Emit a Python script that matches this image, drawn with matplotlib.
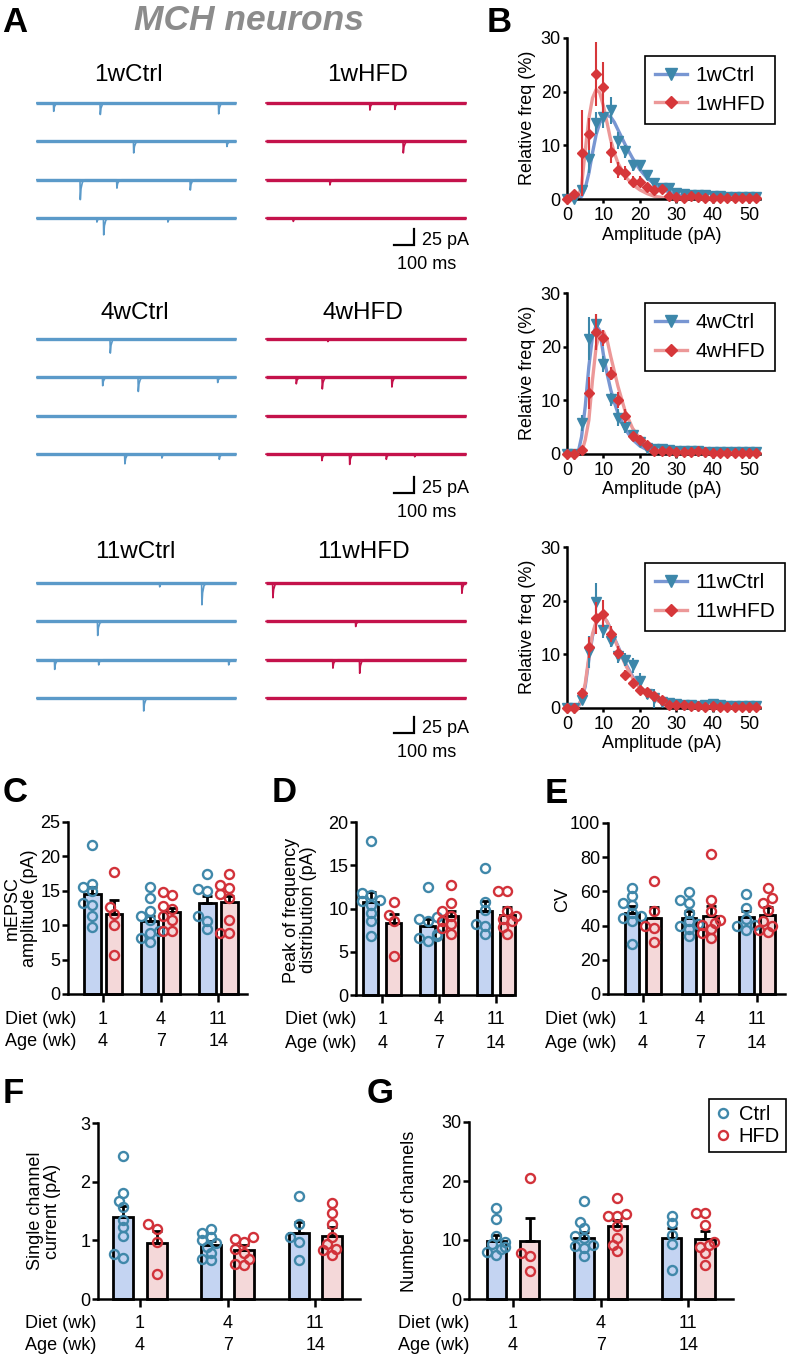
import numpy as np
import matplotlib
matplotlib.use("Agg")
import matplotlib.pyplot as plt
from matplotlib.lines import Line2D

plt.rcParams['font.family'] = ['Liberation Sans', 'DejaVu Sans']

W, H = 787, 1355

# ---------------- panel A: mEPSC events per sweep, (time ms, amplitude pA)
ev_1w_ctrl = [[(87, 13), (320, 18), (912, 17)],
              [(487, 18), (953, 8)],
              [(220, 31), (403, 13), (770, 16)],
              [(303, 6), (337, 26), (658, 6)]]
ev_1w_hfd = [[(518, 11), (643, 10)],
             [(685, 18)],
             [(318, 8)],
             [(135, 5)]]
ev_4w_ctrl = [[(370, 22)],
              [(332, 13), (510, 22), (907, 8)],
              [],
              [(443, 15), (628, 6), (915, 8)]]
ev_4w_hfd = [[(308, 4)],
             [(150, 10), (280, 18), (628, 15)],
             [],
             [(278, 10), (417, 16), (600, 8), (742, 4)]]
ev_11w_ctrl = [[(617, 6), (828, 34)],
               [(307, 22)],
               [(92, 15), (312, 8), (962, 8)],
               [(537, 20)]]
ev_11w_hfd = [[(33, 23), (978, 16)],
              [(447, 8)],
              [(333, 13), (467, 21)],
              []]
trace_groups = ["1w", "4w", "11w"]

# ---------------- panel B: amplitude distributions
amp_bins = [0, 2, 4, 6, 8, 10, 12, 14, 16, 18, 20, 22, 24, 26, 28, 30, 32, 34, 36, 38, 40, 42, 44, 46, 48, 50, 52]
fit_x = [0, 2, 3, 4, 5, 6, 7, 8, 9, 10, 11, 12, 13, 14, 16, 18, 20, 22, 24, 26, 28, 30, 34, 40, 46, 52]

b1_ctrl = [0, 0, 1.7, 7.4, 14.2, 15.3, 16.5, 10.9, 8.9, 6.3, 6.3, 4.4, 3.0, 2.0, 2.1, 1.1, 1.0, 0.8, 0.8, 0.7, 0.6, 0.5, 0.4, 0.4, 0.3, 0.3, 0.3]
b1_ctrl_sem = [0, 0, 0.8, 2.5, 2.0, 2.1, 2.5, 1.5, 1.2, 1.0, 1.0, 0.8, 0.6, 0.4, 0.4, 0.3, 0.3, 0.3, 0.3, 0.3, 0.2, 0.2, 0.2, 0.2, 0.2, 0.2, 0.2]
b1_hfd = [0, 1.0, 8.5, 12.1, 23.3, 20.8, 8.7, 5.4, 4.8, 3.2, 3.2, 2.2, 1.6, 1.9, 0.5, 0.4, 0.2, 0.5, 0.3, 0.2, 0.2, 0.2, 0.2, 0.1, 0.1, 0.2, 0.1]
b1_hfd_sem = [0, 0.5, 8.0, 3.0, 6.0, 4.8, 2.0, 1.5, 1.3, 1.0, 1.0, 0.8, 0.6, 0.8, 0.3, 0.3, 0.2, 0.3, 0.2, 0.2, 0.2, 0.2, 0.2, 0.1, 0.1, 0.1, 0.1]
b1_ctrl_fit = [0, 0, 0.05, 0.5, 2.0, 4.8, 8.6, 12.0, 14.2, 15.3, 15.6, 15.3, 14.3, 12.9, 10.1, 7.6, 5.5, 3.9, 2.8, 1.9, 1.3, 0.8, 0.35, 0.1, 0.03, 0]
b1_hfd_fit = [0, 0, 0.2, 2.5, 9.0, 15.0, 18.8, 20.4, 19.8, 17.3, 14.2, 11.0, 8.6, 6.7, 4.2, 2.7, 1.7, 1.0, 0.5, 0.3, 0.15, 0.05, 0, 0, 0, 0]

b2_ctrl = [0, 0, 5.8, 21.5, 24.3, 16.8, 10.2, 6.8, 5.0, 3.5, 2.2, 1.2, 1.0, 0.9, 0.8, 0.6, 0.6, 0.5, 0.5, 0.4, 0.4, 0.3, 0.3, 0.3, 0.3, 0.3, 0.3]
b2_ctrl_sem = [0, 0, 1.5, 4.0, 1.8, 1.5, 1.2, 1.5, 1.0, 0.8, 0.5, 0.4, 0.3, 0.3, 0.3, 0.3, 0.3, 0.3, 0.3, 0.3, 0.3, 0.2, 0.2, 0.2, 0.2, 0.2, 0.2]
b2_hfd = [0, 0, 0.7, 11.4, 22.7, 21.6, 15.0, 10.1, 7.0, 3.3, 2.7, 1.6, 0.5, 0.5, 0.5, 0.4, 0.3, 0.4, 0.5, 0.3, 0.2, 0.2, 0.2, 0.2, 0.2, 0.2, 0.2]
b2_hfd_sem = [0, 0, 0.4, 3.0, 3.3, 1.5, 1.3, 1.5, 1.3, 0.8, 0.8, 0.5, 0.2, 0.2, 0.2, 0.2, 0.2, 0.2, 0.2, 0.2, 0.2, 0.2, 0.2, 0.2, 0.2, 0.2, 0.2]
b2_ctrl_fit = [0, 0, 0.1, 3.2, 8.8, 16.3, 21.9, 24.0, 23.0, 18.5, 15.0, 12.0, 9.6, 7.6, 4.6, 2.7, 1.5, 0.8, 0.4, 0.2, 0.1, 0, 0, 0, 0, 0]
b2_hfd_fit = [0, 0, 0, 0.3, 2.6, 6.3, 13.8, 20.0, 22.5, 22.8, 21.3, 18.2, 15.4, 12.6, 7.9, 4.8, 2.9, 1.8, 1.0, 0.5, 0.25, 0.1, 0, 0, 0, 0]

b3_ctrl = [0, 0, 1.5, 10.5, 19.8, 14.6, 12.5, 9.6, 9.0, 8.0, 5.0, 2.6, 1.8, 1.2, 0.9, 0.7, 0.6, 0.5, 0.4, 0.5, 0.8, 0.5, 0.3, 0.3, 0.3, 0.3, 0.3]
b3_ctrl_sem = [0, 0, 0.8, 3.0, 3.5, 1.5, 1.2, 1.3, 1.2, 1.4, 1.5, 1.0, 1.8, 0.6, 0.3, 0.3, 0.3, 0.3, 0.3, 0.3, 0.3, 0.3, 0.3, 0.3, 0.3, 0.3, 0.3]
b3_hfd = [0, 0, 2.8, 11.3, 16.8, 17.6, 13.8, 10.3, 6.2, 4.7, 3.3, 3.0, 2.3, 1.5, 0.6, 0.6, 0.6, 0.4, 0.3, 0.2, 0.3, 0.2, 0.2, 0.2, 0.2, 0.2, 0.2]
b3_hfd_sem = [0, 0, 1.0, 2.0, 3.0, 2.5, 1.5, 1.2, 0.8, 0.7, 0.6, 0.5, 0.5, 0.4, 0.2, 0.2, 0.2, 0.2, 0.2, 0.2, 0.2, 0.2, 0.2, 0.2, 0.2, 0.2, 0.2]
b3_ctrl_fit = [0, 0, 0.1, 1.6, 4.0, 9.0, 13.4, 15.8, 17.0, 17.0, 16.1, 14.7, 13.0, 11.5, 8.4, 5.9, 4.0, 2.7, 1.7, 1.1, 0.6, 0.4, 0.15, 0.05, 0, 0]
b3_hfd_fit = [0, 0, 0.1, 1.8, 4.5, 9.5, 13.8, 16.1, 17.2, 17.1, 16.1, 14.6, 12.9, 11.3, 8.1, 5.6, 3.8, 2.5, 1.6, 1.0, 0.6, 0.35, 0.1, 0.03, 0, 0]

# ---------------- panels C-G: per-cell values, means and SEM
diet_wk = ["1", "4", "11"]
age_wk = ["4", "7", "14"]

c_ctrl_mean = [14.5, 10.6, 13.2]
c_ctrl_sem = [1.0, 0.8, 1.1]
c_hfd_mean = [11.7, 11.9, 13.3]
c_hfd_sem = [1.9, 0.6, 1.0]
c_ctrl_pts = [[21.6, 16.0, 15.5, 14.9, 13.2, 13.0, 11.4, 9.7],
              [15.6, 13.9, 12.1, 11.4, 10.8, 9.1, 8.9, 8.1, 7.5],
              [17.4, 15.2, 14.9, 11.3, 10.6, 9.4]]
c_hfd_pts = [[17.8, 12.7, 11.7, 10.1, 5.7],
             [14.8, 14.4, 12.8, 12.3, 11.3, 10.8, 9.2, 9.1],
             [17.4, 15.9, 15.4, 14.5, 14.0, 10.8, 8.9, 8.9]]

d_ctrl_mean = [10.8, 8.0, 9.7]
d_ctrl_sem = [1.1, 0.8, 1.2]
d_hfd_mean = [8.3, 9.1, 9.3]
d_hfd_sem = [1.1, 0.6, 0.9]
d_ctrl_pts = [[17.8, 11.8, 11.6, 11.0, 10.9, 10.4, 9.5, 8.6, 6.8],
              [12.5, 9.0, 8.8, 8.5, 7.0, 6.8, 6.6, 6.3],
              [14.7, 10.8, 9.8, 8.2, 8.0, 7.1]]
d_hfd_pts = [[10.7, 9.3, 8.6, 4.5],
             [12.7, 10.6, 9.7, 9.1, 8.6, 8.2, 7.7, 7.1],
             [12.0, 12.0, 9.7, 9.1, 8.8, 8.5, 7.9, 7.1]]

e_ctrl_mean = [47.4, 44.4, 44.8]
e_ctrl_sem = [3.9, 3.9, 3.9]
e_hfd_mean = [44.4, 45.8, 46.4]
e_hfd_sem = [6.3, 5.9, 4.5]
e_ctrl_pts = [[62.0, 57.3, 53.2, 52.2, 47.4, 45.4, 44.4, 42.5, 29.4],
              [59.5, 55.2, 53.2, 47.4, 42.5, 41.1, 39.6, 38.0, 33.7],
              [58.7, 50.3, 43.9, 40.5, 39.6, 37.6]]
e_hfd_pts = [[65.9, 48.3, 39.6, 38.6, 30.4],
             [81.9, 55.2, 48.7, 43.5, 41.5, 40.5, 38.0, 35.7, 32.7],
             [62.0, 56.1, 53.2, 49.3, 42.5, 40.0, 37.6, 36.1]]

f_ctrl_mean = [1.39, 0.92, 1.13]
f_ctrl_sem = [0.20, 0.07, 0.19]
f_hfd_mean = [0.96, 0.83, 1.08]
f_hfd_sem = [0.20, 0.09, 0.14]
f_ctrl_pts = [[2.43, 1.81, 1.67, 1.56, 1.35, 1.23, 1.08, 0.76, 0.70],
              [1.20, 1.13, 1.06, 1.00, 0.95, 0.89, 0.79, 0.69, 0.66],
              [1.76, 1.27, 1.05, 0.98, 0.67]]
f_hfd_pts = [[1.28, 1.20, 0.98, 0.42],
             [1.06, 1.02, 0.98, 0.86, 0.79, 0.69, 0.60, 0.58],
             [1.63, 1.47, 1.28, 1.06, 0.94, 0.85, 0.83, 0.75]]

g_ctrl_mean = [9.9, 10.4, 10.4]
g_ctrl_sem = [0.9, 0.9, 1.7]
g_hfd_mean = [9.9, 12.4, 10.2]
g_hfd_sem = [3.8, 1.0, 1.3]
g_ctrl_pts = [[15.4, 13.6, 10.7, 9.6, 9.4, 8.8, 8.5, 8.0, 7.5],
              [16.6, 13.0, 12.0, 10.6, 10.3, 9.1, 9.0, 8.6, 7.3],
              [14.1, 12.8, 10.9, 9.4, 5.0]]
g_hfd_pts = [[20.5, 7.8, 7.3, 4.7],
             [17.2, 14.4, 14.1, 14.0, 12.3, 10.4, 9.1, 8.1],
             [14.5, 14.5, 12.5, 9.7, 9.2, 8.8, 7.8, 5.7]]

# colours
CTRL_TRACE, HFD_TRACE = "#5b9ac9", "#c4124b"
CTRL_MK, HFD_MK = "#3d87aa", "#d6373a"
CTRL_FIT, HFD_FIT = "#7896d2", "#ec9898"
CTRL_BAR, HFD_BAR = "#c4d4f2", "#f4d8d9"
CTRL_DOT, HFD_DOT = "#4088aa", "#d2323a"

fig = plt.figure(figsize=(W / 100, H / 100), dpi=100)


def px_axes(x0, y0, x1, y1):
    return fig.add_axes([x0 / W, 1 - y1 / H, (x1 - x0) / W, (y1 - y0) / H])


def ftext(x, y, s, **kw):
    return fig.text(x / W, 1 - y / H, s, **kw)


# ---------------- A: traces
PX_MS, PX_PA, ROW_PA = 0.2, 0.64, 60
HFD_SHIFT = 1150
trace_rows = [103, 339, 583]
bar_bottom = [245, 493, 733]
label_base = [81, 319, 558]
label_x = [(128, 368), (135, 363), (135, 363)]
events = {"1w": (ev_1w_ctrl, ev_1w_hfd), "4w": (ev_4w_ctrl, ev_4w_hfd), "11w": (ev_11w_ctrl, ev_11w_hfd)}


def sweep(evs):
    t, y = [0], [0]
    for t0, a in sorted(evs):
        t += [t0, t0 + 1.5, t0 + 5, t0 + 12, t0 + 25]
        y += [0, -a, -0.45 * a, -0.12 * a, 0]
    t.append(1000)
    y.append(0)
    return np.array(t), np.array(y)


for gi, grp in enumerate(trace_groups):
    r1 = trace_rows[gi]
    ax = px_axes(36, r1 - 40, 480, r1 + 170)
    ax.set_xlim(0, (480 - 36) / PX_MS)
    ax.set_ylim(-170 / PX_PA, 40 / PX_PA)
    ax.axis("off")
    ctrl_ev, hfd_ev = events[grp]
    for k in range(4):
        for evs, shift, col in ((ctrl_ev[k], 0, CTRL_TRACE), (hfd_ev[k], HFD_SHIFT, HFD_TRACE)):
            t, y = sweep(evs)
            ax.plot([shift, shift + 1000], [-k * ROW_PA] * 2, color=col, lw=2.4, solid_capstyle="butt")
            ax.plot(t + shift, y - k * ROW_PA, color=col, lw=1.2)
    yb = (r1 - bar_bottom[gi]) / PX_PA
    xr = (414 - 36) / PX_MS
    ax.plot([xr - 100, xr, xr], [yb, yb, yb + 25], color="black", lw=1.6, solid_joinstyle="miter")
    ax.text(xr + 40, yb, "25 pA", fontsize=13, ha="left", va="baseline")
    ax.text((427 - 36) / PX_MS, yb - 24 / PX_PA, "100 ms", fontsize=13, ha="center", va="baseline")
    ftext(label_x[gi][0], label_base[gi], grp + "Ctrl", fontsize=17.5, ha="center", va="baseline")
    ftext(label_x[gi][1], label_base[gi], grp + "HFD", fontsize=17.5, ha="center", va="baseline")

ftext(249, 30, "MCH neurons", fontsize=25.5, fontweight="bold", fontstyle="italic",
      color="#8c8c8c", ha="center", va="baseline")

# ---------------- B: distributions
def style_axes(ax, lw=1.8):
    for s in ("top", "right"):
        ax.spines[s].set_visible(False)
    for s in ("left", "bottom"):
        ax.spines[s].set_linewidth(lw)


def dist_panel(top, cm, cs, cf, hm, hs, hf, names, leg_top):
    ax = px_axes(567, top, 760, top + 161)
    ax.set_xlim(0, 53)
    ax.set_ylim(0, 30)
    ax.plot(fit_x, cf, color=CTRL_FIT, lw=2.4, zorder=2)
    ax.plot(fit_x, hf, color=HFD_FIT, lw=2.4, zorder=2)
    ax.vlines(amp_bins, np.array(cm) - np.array(cs), np.array(cm) + np.array(cs), color=CTRL_MK, lw=1.5, zorder=3)
    ax.plot(amp_bins, cm, "v", color=CTRL_MK, ms=6.5, zorder=4, clip_on=False)
    ax.vlines(amp_bins, np.array(hm) - np.array(hs), np.array(hm) + np.array(hs), color=HFD_MK, lw=1.5, zorder=5)
    ax.plot(amp_bins, hm, "D", color=HFD_MK, ms=5.5, zorder=6, clip_on=False)
    style_axes(ax)
    ax.set_xticks([0, 10, 20, 30, 40, 50])
    ax.set_yticks([0, 10, 20, 30])
    ax.tick_params(width=1.8, length=3, labelsize=13)
    ax.tick_params(axis="y", pad=1.5)
    ax.tick_params(axis="x", pad=3)
    ftext(527, top + 80, "Relative freq (%)", fontsize=13, rotation=90, ha="center", va="center")
    ftext(662, top + 197, "Amplitude (pA)", fontsize=13, ha="center", va="center")
    handles = [Line2D([], [], color=CTRL_FIT, lw=2.4, marker="v", mfc=CTRL_MK, mec=CTRL_MK, ms=8),
               Line2D([], [], color=HFD_FIT, lw=2.4, marker="D", mfc=HFD_MK, mec=HFD_MK, ms=6.5)]
    leg = ax.legend(handles, names, loc="upper left", bbox_to_anchor=(645 / W, 1 - leg_top / H),
                    bbox_transform=fig.transFigure, fancybox=False, edgecolor="black", framealpha=1,
                    fontsize=15, handlelength=1.5, borderpad=0.5, labelspacing=0.45,
                    handletextpad=0.4, borderaxespad=0)
    leg.get_frame().set_linewidth(1.2)


dist_panel(38, b1_ctrl, b1_ctrl_sem, b1_ctrl_fit, b1_hfd, b1_hfd_sem, b1_hfd_fit, ["1wCtrl", "1wHFD"], 56)
dist_panel(293, b2_ctrl, b2_ctrl_sem, b2_ctrl_fit, b2_hfd, b2_hfd_sem, b2_hfd_fit, ["4wCtrl", "4wHFD"], 303)
dist_panel(547, b3_ctrl, b3_ctrl_sem, b3_ctrl_fit, b3_hfd, b3_hfd_sem, b3_hfd_fit, ["11wCtrl", "11wHFD"], 563)

# ---------------- C-G: bar + scatter panels
def swarm(vals, ppy, ppx, step=4.5, min_d=7.0):
    placed, offs = [], [0.0] * len(vals)
    for i in sorted(range(len(vals)), key=lambda j: vals[j]):
        y = vals[i] * ppy
        x = 0.0
        for k in (0, -1, 1, -2, 2):
            x = k * step
            if all((x - px) ** 2 + (y - py) ** 2 >= min_d ** 2 for px, py in placed):
                break
        placed.append((x, y))
        offs[i] = x / ppx
    return offs


def bar_panel(rect, xlim, ylim, yticks, bw, off, cm, cs, cp, hm, hs, hp,
              ylabel, ylab_xy, rows_xy):
    ax = px_axes(*rect)
    ax.set_xlim(*xlim)
    ax.set_ylim(0, ylim)
    ppx = (rect[2] - rect[0]) / (xlim[1] - xlim[0])
    ppy = (rect[3] - rect[1]) / ylim
    for g in range(3):
        for m, s, p, sgn, fc, mc in ((cm, cs, cp, -1, CTRL_BAR, CTRL_DOT),
                                     (hm, hs, hp, 1, HFD_BAR, HFD_DOT)):
            xc = g + sgn * off
            ax.bar(xc, m[g], width=bw, color=fc, edgecolor="black", linewidth=2, zorder=2,
                   clip_on=False)
            ax.errorbar(xc, m[g], yerr=[[0], [s[g]]], color="black", lw=2, capsize=3.5,
                        capthick=2, zorder=3)
            dx = swarm(p[g], ppy, ppx)
            ax.plot(xc + np.array(dx), p[g], "o", mfc="none", mec=mc, mew=1.7, ms=6.5,
                    zorder=4, clip_on=False)
    style_axes(ax)
    ax.set_yticks(yticks)
    ax.set_xticks([0, 1, 2])
    ax.set_xticklabels([])
    ax.tick_params(width=1.8, labelsize=13)
    ax.tick_params(axis="y", length=4, pad=1.5)
    ax.tick_params(axis="x", length=6)
    ftext(ylab_xy[0], ylab_xy[1], ylabel, fontsize=13, rotation=90, ha="center", va="center",
          linespacing=1.05)
    lx, r1, r2 = rows_xy
    ftext(lx, r1, "Diet (wk)", fontsize=13, ha="left", va="center")
    ftext(lx, r2, "Age (wk)", fontsize=13, ha="left", va="center")
    for g in range(3):
        xg = rect[0] + (g - xlim[0]) * ppx
        ftext(xg, r1, diet_wk[g], fontsize=13, ha="center", va="center")
        ftext(xg, r2, age_wk[g], fontsize=13, ha="center", va="center")
    return ax


bar_panel((68, 822, 247, 994), (-0.61, 2.5), 25, [0, 5, 10, 15, 20, 25], 0.29, 0.19,
          c_ctrl_mean, c_ctrl_sem, c_ctrl_pts, c_hfd_mean, c_hfd_sem, c_hfd_pts,
          "mEPSC\namplitude (pA)", (21, 908), (5, 1019, 1042))
bar_panel((356, 822, 512, 995), (-0.46, 2.28), 20, [0, 5, 10, 15, 20], 0.27, 0.2,
          d_ctrl_mean, d_ctrl_sem, d_ctrl_pts, d_hfd_mean, d_hfd_sem, d_hfd_pts,
          "Peak of frequency\ndistribution (pA)", (300, 910), (285, 1020, 1043))
bar_panel((608, 823, 785, 994), (-0.61, 2.49), 100, [0, 20, 40, 60, 80, 100], 0.26, 0.19,
          e_ctrl_mean, e_ctrl_sem, e_ctrl_pts, e_hfd_mean, e_hfd_sem, e_hfd_pts,
          "CV", (563, 900), (545, 1020, 1043))
bar_panel((98, 1123, 360, 1299), (-0.48, 2.51), 3, [0, 1, 2, 3], 0.23, 0.19,
          f_ctrl_mean, f_ctrl_sem, f_ctrl_pts, f_hfd_mean, f_hfd_sem, f_hfd_pts,
          "Single channel\ncurrent (pA)", (44, 1211), (25, 1324, 1346))
ax_g = bar_panel((469, 1122, 733, 1299), (-0.503, 2.51), 30, [0, 10, 20, 30], 0.22, 0.19,
                 g_ctrl_mean, g_ctrl_sem, g_ctrl_pts, g_hfd_mean, g_hfd_sem, g_hfd_pts,
                 "Number of channels", (410, 1211), (398, 1324, 1346))
handles = [Line2D([], [], ls="none", marker="o", mfc="none", mec=CTRL_DOT, mew=1.7, ms=6.5),
           Line2D([], [], ls="none", marker="o", mfc="none", mec=HFD_DOT, mew=1.7, ms=6.5)]
leg = ax_g.legend(handles, ["Ctrl", "HFD"], loc="upper right", bbox_to_anchor=(786 / W, 1 - 1099 / H),
                  bbox_transform=fig.transFigure, fancybox=False, edgecolor="black", framealpha=1,
                  fontsize=14.5, handlelength=0.8, borderpad=0.3, labelspacing=0.15,
                  handletextpad=0.4, borderaxespad=0)
leg.get_frame().set_linewidth(1.2)

# panel letters
for s, x, y in (("A", 2, 32), ("B", 487, 32), ("C", 3, 802), ("D", 272, 802),
                ("E", 545, 803), ("F", 3, 1103), ("G", 367, 1103)):
    ftext(x, y, s, fontsize=25, fontweight="bold", ha="left", va="baseline")

fig.savefig("out.png", dpi=100)
